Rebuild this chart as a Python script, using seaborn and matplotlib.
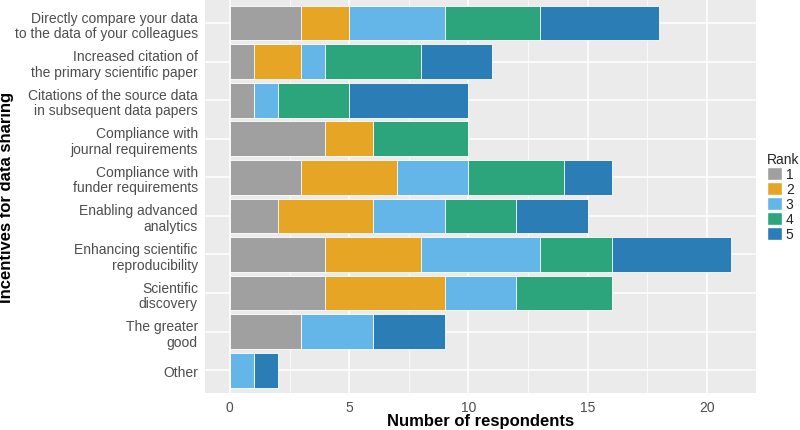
import numpy as np
import pandas as pd
import seaborn as sns
import matplotlib.pyplot as plt
from matplotlib.patches import Patch

categories = [
    'Directly compare your data\nto the data of your colleagues',
    'Increased citation of\nthe primary scientific paper',
    'Citations of the source data\nin subsequent data papers',
    'Compliance with\njournal requirements',
    'Compliance with\nfunder requirements',
    'Enabling advanced\nanalytics',
    'Enhancing scientific\nreproducibility',
    'Scientific\ndiscovery',
    'The greater\ngood',
    'Other',
]
rank1 = [3, 1, 1, 4, 3, 2, 4, 4, 3, 0]
rank2 = [2, 2, 0, 2, 4, 4, 4, 5, 0, 0]
rank3 = [4, 1, 1, 0, 3, 3, 5, 3, 3, 1]
rank4 = [4, 4, 3, 4, 4, 3, 3, 4, 0, 0]
rank5 = [5, 3, 5, 0, 2, 3, 5, 0, 3, 1]
ranks = ['1', '2', '3', '4', '5']
colors = ['#A0A0A0', '#E6A524', '#64B6E8', '#2CA57C', '#2A7DB5']

sns.set_theme(style='darkgrid', rc={'axes.facecolor': '#EBEBEB'})
plt.rcParams['font.family'] = ['Liberation Sans', 'DejaVu Sans']

counts = np.array([rank1, rank2, rank3, rank4, rank5])
cum = counts.cumsum(axis=0)

fig, ax = plt.subplots(figsize=(8, 4.31), dpi=100)
fig.subplots_adjust(left=0.256, right=0.945, top=0.998, bottom=0.085)

# stacked bars: draw cumulative totals from largest to smallest
for i in range(4, -1, -1):
    df = pd.DataFrame({'cat': categories, 'val': cum[i]})
    sns.barplot(data=df, x='val', y='cat', color=colors[i], saturation=1,
                width=0.9, edgecolor='white', linewidth=0.6, ax=ax, zorder=2)

ax.set_xlim(-1.05, 22.05)
ax.set_ylim(9.6, -0.6)
ax.set_xticks([0, 5, 10, 15, 20])
ax.set_xticks([2.5, 7.5, 12.5, 17.5], minor=True)
ax.grid(True, which='major', color='white', linewidth=1.1, zorder=0)
ax.grid(True, which='minor', axis='x', color='white', linewidth=0.5, zorder=0)
ax.set_axisbelow(True)
for s in ax.spines.values():
    s.set_visible(False)
ax.tick_params(axis='both', which='major', length=3, color='#333333',
               labelcolor='#4D4D4D', labelsize=10, pad=2)
ax.tick_params(axis='x', which='major', labelsize=10, pad=1.5)
ax.tick_params(axis='both', which='minor', length=0)
for lab in ax.get_yticklabels():
    lab.set_horizontalalignment('right')
    lab.set_linespacing(1.15)

ax.set_xlabel('Number of respondents', fontsize=12, fontweight='bold', color='black',
              va='bottom')
ax.xaxis.set_label_coords(0.5, -0.087)
ax.set_ylabel('Incentives for data sharing', fontsize=12, fontweight='bold', color='black')
ax.yaxis.set_label_coords(-0.347, 0.5)

handles = [Patch(facecolor=c, edgecolor='white', label=r) for c, r in zip(colors, ranks)]
leg = ax.legend(handles=handles, title='Rank', loc='center left', bbox_to_anchor=(1.0, 0.5),
                frameon=False, fontsize=10, title_fontsize=10, handlelength=1.1,
                handleheight=1.1, handletextpad=0.25, labelspacing=0.05, borderaxespad=0.6,
                borderpad=0.2)
leg._legend_box.align = 'left'

fig.savefig('out.png', dpi=100)
